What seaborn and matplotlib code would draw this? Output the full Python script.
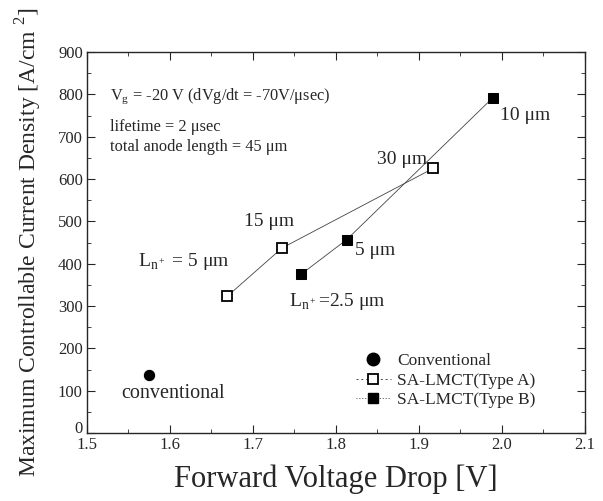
import matplotlib
matplotlib.use("Agg")
import matplotlib.pyplot as plt
from matplotlib.ticker import MultipleLocator
from matplotlib.lines import Line2D
import seaborn as sns
import pandas as pd

# data
conv_v = [1.575]
conv_j = [138]
typeA_v = [1.669, 1.735, 1.917]
typeA_j = [323, 437, 625]
typeA_lab = ["L$_{\\mathregular{n^+}}$ = 5 \u03bcm", "15 \u03bcm", "30 \u03bcm"]
typeB_v = [1.758, 1.813, 1.989]
typeB_j = [375, 457, 792]
typeB_lab = ["L$_{\\mathregular{n^+}}$=2.5 \u03bcm", "5 \u03bcm", "10 \u03bcm"]
xticks = [1.5, 1.6, 1.7, 1.8, 1.9, 2.0, 2.1]
yticks = [0, 100, 200, 300, 400, 500, 600, 700, 800, 900]

sns.set_style("ticks")
plt.rcParams['font.family'] = ['Liberation Serif', 'DejaVu Serif']
plt.rcParams['mathtext.fontset'] = 'custom'
plt.rcParams['mathtext.rm'] = 'Liberation Serif'

fig = plt.figure(figsize=(6.03, 5.01), dpi=100)
ax = fig.add_axes([87/603, 1-433/501, 498/603, 381/501])

dfA = pd.DataFrame({"v": typeA_v, "j": typeA_j})
dfB = pd.DataFrame({"v": typeB_v, "j": typeB_j})
dfC = pd.DataFrame({"v": conv_v, "j": conv_j})

sns.lineplot(data=dfA, x="v", y="j", ax=ax, color="#444444", lw=0.6, sort=False,
             marker="s", markersize=7, markerfacecolor="white", markeredgecolor="black",
             markeredgewidth=1.3)
sns.lineplot(data=dfB, x="v", y="j", ax=ax, color="#444444", lw=0.6, sort=False,
             marker="s", markersize=7, markerfacecolor="black", markeredgecolor="black")
sns.scatterplot(data=dfC, x="v", y="j", ax=ax, color="black", s=80, marker="o")

ax.set_xlim(1.5, 2.1)
ax.set_ylim(0, 900)
ax.set_xticks(xticks)
ax.set_xticklabels([f"{v:.1f}" for v in xticks])
ax.set_yticks(yticks)
ax.set_yticklabels([str(v) for v in yticks])
ax.xaxis.set_minor_locator(MultipleLocator(0.05))
ax.yaxis.set_minor_locator(MultipleLocator(50))
ax.tick_params(which="both", direction="in", top=True, right=True, labelsize=12, pad=3)
ax.tick_params(which="major", length=6)
ax.tick_params(which="minor", length=3)
ax.get_yticklabels()[0].set_verticalalignment("baseline")
for s in ax.spines.values():
    s.set_linewidth(1.0)

ax.set_xlabel("Forward Voltage Drop [V]", fontsize=22, labelpad=8)
ax.set_ylabel("Maximum Controllable Current Density [A/cm $^{2}$]", fontsize=17, labelpad=10)

# notes
ax.text(1.528, 797, "V$_\\mathregular{g}$ = -20 V (dVg/dt = -70V/\u03bcsec)", fontsize=11.8, va="center")
ax.text(1.528, 722, "lifetime = 2 \u03bcsec", fontsize=11.8, va="center")
ax.text(1.528, 676, "total anode length = 45 \u03bcm", fontsize=11.8, va="center")

# point labels
ax.text(1.672, 404, typeA_lab[0], fontsize=14, ha="right", va="center")
ax.text(1.749, 500, typeA_lab[1], fontsize=14, ha="right", va="center")
ax.text(1.910, 645, typeA_lab[2], fontsize=14, ha="right", va="center")
ax.text(1.743, 310, typeB_lab[0], fontsize=14, ha="left", va="center")
ax.text(1.823, 430, typeB_lab[1], fontsize=14, ha="left", va="center")
ax.text(1.997, 750, typeB_lab[2], fontsize=14, ha="left", va="center")
ax.text(1.604, 94, "conventional", fontsize=14.5, ha="center", va="center")

handles = [
    Line2D([], [], ls="none", marker="o", ms=9, color="black"),
    Line2D([], [], ls=(0, (2, 3)), lw=0.7, color="#444444", marker="s", ms=7,
           mfc="white", mec="black", mew=1.3),
    Line2D([], [], ls=(0, (1, 2)), lw=0.7, color="#444444", marker="s", ms=7,
           mfc="black", mec="black"),
]
labels = ["Conventional", "SA-LMCT(Type A)", "SA-LMCT(Type B)"]
ax.legend(handles, labels, loc="upper left",
          bbox_to_anchor=((356-87)/498, (433-353)/381), borderaxespad=0, borderpad=0,
          frameon=False, fontsize=12.5,
          handlelength=2.0, handletextpad=0.35, labelspacing=0.2)

fig.savefig("out.png", dpi=100)
